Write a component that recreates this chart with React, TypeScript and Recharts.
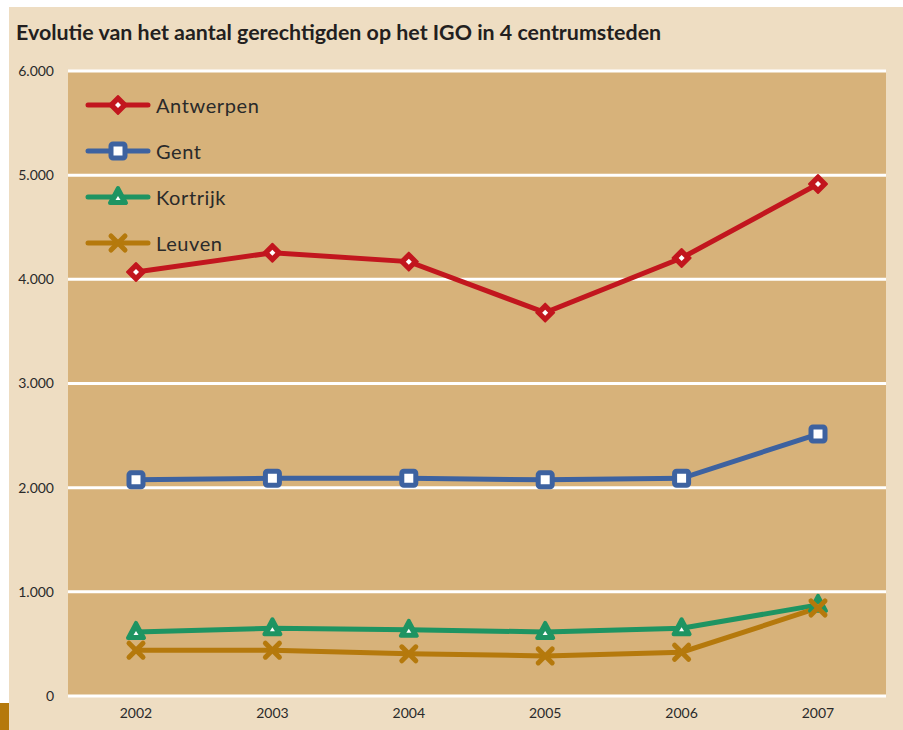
import * as React from "react";
import {
  LineChart,
  Line,
  XAxis,
  YAxis,
  CartesianGrid,
} from "recharts";

const years = ["2002", "2003", "2004", "2005", "2006", "2007"];
const antwerpen = [4070, 4255, 4170, 3680, 4205, 4915];
const gent = [2075, 2090, 2090, 2075, 2090, 2515];
const kortrijk = [615, 650, 635, 615, 650, 875];
const leuven = [440, 440, 405, 385, 420, 845];
const yTicks = [0, 1000, 2000, 3000, 4000, 5000, 6000];

const data = years.map((year, i) => ({
  year,
  Antwerpen: antwerpen[i],
  Gent: gent[i],
  Kortrijk: kortrijk[i],
  Leuven: leuven[i],
}));

const FONT = "Lato, 'Open Sans', sans-serif";

type Shape = "diamond" | "square" | "triangle" | "cross";

const series: { key: string; color: string; shape: Shape }[] = [
  { key: "Antwerpen", color: "#C2161E", shape: "diamond" },
  { key: "Gent", color: "#3D62A0", shape: "square" },
  { key: "Kortrijk", color: "#1E9462", shape: "triangle" },
  { key: "Leuven", color: "#B5790C", shape: "cross" },
];

const Marker = ({ cx, cy, shape, color }: { cx: number; cy: number; shape: Shape; color: string }) => {
  if (shape === "diamond") {
    return (
      <g>
        <polygon
          points={`${cx},${cy - 9} ${cx + 9},${cy} ${cx},${cy + 9} ${cx - 9},${cy}`}
          fill={color}
          stroke={color}
          strokeWidth={2}
          strokeLinejoin="round"
        />
        <polygon
          points={`${cx},${cy - 3} ${cx + 3},${cy} ${cx},${cy + 3} ${cx - 3},${cy}`}
          fill="#fff"
        />
      </g>
    );
  }
  if (shape === "square") {
    return (
      <rect x={cx - 7} y={cy - 7} width={14} height={14} rx={2} fill="#fff" stroke={color} strokeWidth={5} />
    );
  }
  if (shape === "triangle") {
    return (
      <g>
        <polygon
          points={`${cx},${cy - 9} ${cx + 8},${cy + 6} ${cx - 8},${cy + 6}`}
          fill={color}
          stroke={color}
          strokeWidth={4}
          strokeLinejoin="round"
        />
        <polygon points={`${cx},${cy - 1} ${cx + 2.5},${cy + 3} ${cx - 2.5},${cy + 3}`} fill="#fff" />
      </g>
    );
  }
  return (
    <g stroke={color} strokeWidth={5} strokeLinecap="round">
      <line x1={cx - 7} y1={cy - 7} x2={cx + 7} y2={cy + 7} />
      <line x1={cx - 7} y1={cy + 7} x2={cx + 7} y2={cy - 7} />
    </g>
  );
};

const fmt = (v: number) => (v === 0 ? "0" : `${Math.floor(v / 1000)}.${String(v % 1000).padStart(3, "0")}`);

const ChartLegend = () => (
  <div style={{ position: "absolute", left: 75, top: 75, fontFamily: FONT }}>
    {series.map((s) => (
      <div key={s.key} style={{ display: "flex", alignItems: "center", height: 46 }}>
        <svg width={68} height={24}>
          <line x1={4} y1={12} x2={64} y2={12} stroke={s.color} strokeWidth={5} strokeLinecap="round" />
          <Marker cx={34} cy={12} shape={s.shape} color={s.color} />
        </svg>
        <span style={{ fontSize: 20, color: "#2a2a2a", marginLeft: 4, letterSpacing: 0.6 }}>{s.key}</span>
      </div>
    ))}
  </div>
);

export default function App() {
  return (
    <div style={{ position: "absolute", left: 0, top: 0, width: 903, height: 730, background: "#fff", overflow: "hidden" }}>
      <div style={{ position: "absolute", left: 0, top: 703, width: 9, height: 27, background: "#B5790C" }} />
      <div style={{ position: "absolute", left: 9, top: 7, width: 894, height: 723, background: "#EEDDC2" }}>
        <div
          style={{
            position: "absolute",
            left: 7,
            top: 12,
            fontFamily: FONT,
            fontWeight: 700,
            fontSize: 21.4,
            color: "#231F20",
            whiteSpace: "nowrap",
          }}
        >
          Evolutie van het aantal gerechtigden op het IGO in 4 centrumsteden
        </div>
        <LineChart width={894} height={723} data={data} margin={{ top: 64, right: 17, bottom: 4, left: 0 }}>
          <CartesianGrid vertical={false} stroke="#fff" strokeWidth={3} fill="#D7B27A" fillOpacity={1} />
          <XAxis
            dataKey="year"
            axisLine={false}
            tickLine={false}
            padding={{ left: 68, right: 68 }}
            height={30}
            tick={{ fontSize: 14, fill: "#2a2a2a", fontFamily: FONT }}
            tickMargin={6}
          />
          <YAxis
            domain={[0, 6000]}
            ticks={yTicks}
            width={59}
            axisLine={false}
            tickLine={false}
            tickFormatter={fmt}
            tick={{ fontSize: 14, fill: "#2a2a2a", fontFamily: FONT }}
            tickMargin={8}
          />
          {series.map((s) => (
            <Line
              key={s.key}
              dataKey={s.key}
              stroke={s.color}
              strokeWidth={5}
              isAnimationActive={false}
              dot={(p: any) => <Marker key={`${s.key}-${p.index}`} cx={p.cx} cy={p.cy} shape={s.shape} color={s.color} />}
              activeDot={false}
            />
          ))}
        </LineChart>
        <ChartLegend />
      </div>
    </div>
  );
}
